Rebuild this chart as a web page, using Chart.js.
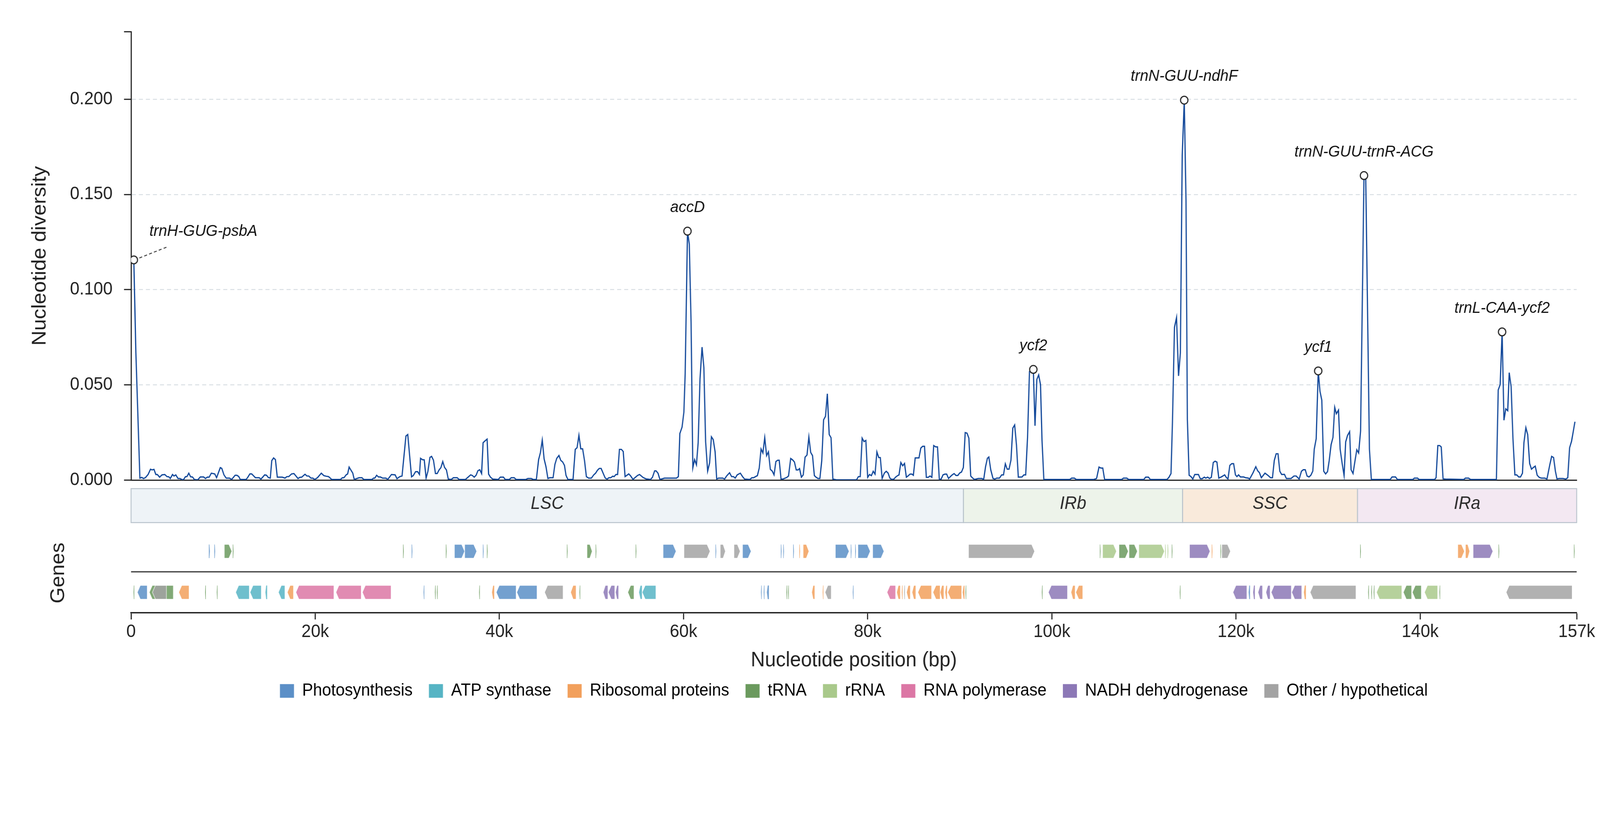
<!DOCTYPE html>
<html>
<head>
<meta charset="utf-8">
<title>Nucleotide diversity along the plastome</title>
<script src="https://cdn.jsdelivr.net/npm/chart.js@4.4.1/dist/chart.umd.min.js"></script>
<style>
  html, body { margin: 0; padding: 0; background: #fff; overflow: hidden; }
  #wrap { position: relative; width: 100vw; height: 100vh; }
  #wrap canvas { position: absolute; left: 0; top: 0; }
</style>
</head>
<body>
<div id="wrap">
  <canvas id="piChart" width="4322" height="2102" style="width:100vw;height:100vh"></canvas>
  <canvas id="trackChart" width="4322" height="2102" style="width:100vw;height:100vh"></canvas>
</div>
<script>
const GENOME_LEN = 157000;
const Y_MAX = 0.2355;

// sliding-window nucleotide diversity, [position (bp), Pi], per region
const piLSC = [
  [300,0.1156],[520,0.0670],[960,0.0010],[1160,0.0014],[1340,0.0008],[1550,0.0012],[1850,0.0029],[2110,0.0057],
  [2290,0.0053],[2490,0.0056],[2690,0.0029],[2850,0.0029],[3100,0.0015],[3360,0.0027],[3660,0.0029],[3900,0.0018],
  [4100,0.0017],[4260,0.0008],[4500,0.0029],[4660,0.0021],[4860,0.0027],[5100,0.0008],[5310,0.0008],[5570,0.0001],
  [5710,0.0003],[5910,0.0018],[6070,0.0018],[6270,0.0036],[6470,0.0017],[6670,0.0016],[6870,0.0003],[7240,0.0001],
  [7520,0.0016],[7880,0.0016],[8080,0.0008],[8280,0.0015],[8480,0.0015],[8720,0.0036],[9090,0.0032],[9290,0.0012],
  [9690,0.0065],[9850,0.0061],[10090,0.0027],[10330,0.0010],[10690,0.0010],[10930,0.0003],[11300,0.0025],[11500,0.0025],
  [11700,0.0018],[11860,0.0003],[12500,0.0003],[12660,0.0013],[12900,0.0032],[13100,0.0032],[13510,0.0012],[13910,0.0012],
  [14110,0.0005],[14510,0.0027],[14710,0.0025],[14910,0.0013],[15120,0.0010],[15280,0.0102],[15480,0.0116],[15680,0.0107],
  [15880,0.0015],[16420,0.0015],[16720,0.0010],[16920,0.0018],[17130,0.0018],[17430,0.0032],[17690,0.0034],[17890,0.0022],
  [18130,0.0008],[18330,0.0014],[18530,0.0015],[18890,0.0030],[19100,0.0021],[19300,0.0021],[19540,0.0010],[19740,0.0010],
  [19940,0.0003],[20240,0.0012],[20660,0.0036],[20940,0.0023],[21190,0.0020],[21450,0.0018],[21790,0.0003],[22750,0.0003],
  [22950,0.0012],[23120,0.0012],[23360,0.0027],[23520,0.0032],[23680,0.0068],[24080,0.0036],[24240,0.0003],[24760,0.0012],
  [25070,0.0012],[25270,0.0003],[26170,0.0003],[26330,0.0010],[26470,0.0010],[26670,0.0025],[26870,0.0016],[27080,0.0016],
  [27320,0.0010],[27680,0.0010],[27880,0.0003],[28280,0.0029],[28680,0.0027],[28880,0.0007],[29190,0.0018],[29430,0.0021],
  [29850,0.0231],[30050,0.0239],[30460,0.0017],[30640,0.0023],[30900,0.0044],[31120,0.0044],[31320,0.0029],[31440,0.0114],
  [31640,0.0107],[31840,0.0106],[32040,0.0010],[32240,0.0046],[32460,0.0119],[32640,0.0124],[32840,0.0104],[33060,0.0034],
  [33250,0.0034],[33450,0.0053],[33650,0.0065],[33850,0.0097],[34050,0.0066],[34250,0.0053],[34450,0.0005],[34770,0.0003],
  [35010,0.0012],[35420,0.0012],[35620,0.0003],[36320,0.0003],[36880,0.0027],[37060,0.0024],[37270,0.0015],[37470,0.0025],
  [37670,0.0049],[37870,0.0054],[38070,0.0034],[38230,0.0196],[38430,0.0205],[38670,0.0215],[38830,0.0031],[39030,0.0015],
  [39280,0.0005],[39880,0.0003],[40100,0.0015],[40440,0.0015],[40640,0.0003],[41080,0.0003],[41290,0.0012],[41610,0.0012],
  [41810,0.0003],[42890,0.0003],[43090,0.0008],[43460,0.0008],[43660,0.0003],[44020,0.0003],[44260,0.0107],[44460,0.0145],
  [44660,0.0210],[44860,0.0111],[45060,0.0070],[45270,0.0008],[45470,0.0012],[45830,0.0012],[46030,0.0082],[46230,0.0114],
  [46470,0.0129],[46670,0.0103],[46870,0.0095],[47070,0.0077],[47240,0.0024],[47440,0.0003],[48000,0.0003],[48240,0.0161],
  [48440,0.0170],[48640,0.0235],[48840,0.0164],[49040,0.0164],[49250,0.0101],[49450,0.0018],[49690,0.0010],[49990,0.0010],
  [50250,0.0027],[50450,0.0036],[50650,0.0051],[50850,0.0061],[51050,0.0061],[51300,0.0032],[51500,0.0010],[51700,0.0005],
  [51900,0.0012],[52100,0.0012],[52300,0.0020],[52460,0.0018],[52660,0.0029],[52840,0.0029],[53040,0.0161],[53250,0.0161],
  [53450,0.0150],[53650,0.0018],[53850,0.0025],[54050,0.0032],[54250,0.0022],[54510,0.0003],[54810,0.0016],[55010,0.0024],
  [55220,0.0029],[55420,0.0021],[55620,0.0013],[55920,0.0006],[56420,0.0003],[56620,0.0014],[56860,0.0048],[57020,0.0048],
  [57230,0.0036],[57430,0.0003],[57730,0.0007],[57930,0.0010],[59240,0.0010],[59440,0.0018],[59600,0.0244],[59840,0.0278],
  [60040,0.0357],[60180,0.0559],[60430,0.1307],[60625,0.1238],[60820,0.0829],[61010,0.0064],[61200,0.0107],[61400,0.0080],
  [61590,0.0196],[61790,0.0530],[62010,0.0698],[62210,0.0590],[62400,0.0201],[62620,0.0047],[62830,0.0090],[63030,0.0227],
  [63230,0.0212],[63430,0.0148],[63600,0.0005],[63800,0.0010],[64260,0.0010],[64460,0.0005],[64660,0.0020],[65000,0.0038],
  [65220,0.0018],[65430,0.0018],[65610,0.0010],[65830,0.0027],[66170,0.0036],[66410,0.0018],[66630,0.0005],[67210,0.0003],
  [67420,0.0012],[67620,0.0012],[67820,0.0018],[68020,0.0023],[68220,0.0063],[68420,0.0163],[68620,0.0142],[68820,0.0222],
  [69020,0.0128],[69220,0.0148],[69430,0.0056],[69630,0.0047],[69830,0.0027],[70030,0.0097],[70230,0.0104],[70390,0.0104],
  [70590,0.0005],[70790,0.0005],[71190,0.0013],[71400,0.0021],[71640,0.0113],[71840,0.0106],[72040,0.0095],[72240,0.0053],
  [72440,0.0053],[72600,0.0060],[72800,0.0015],[73000,0.0027],[73200,0.0120],[73410,0.0131],[73610,0.0226],[73810,0.0145],
  [74010,0.0128],[74210,0.0023],[74410,0.0014],[74610,0.0008],[74810,0.0008],[75010,0.0101],[75210,0.0316],[75420,0.0335],
  [75620,0.0453],[75820,0.0239],[76020,0.0222],[76220,0.0005],[76620,0.0001],[78790,0.0001],[78990,0.0018],[79190,0.0018],
  [79400,0.0220],[79600,0.0202],[79800,0.0208],[80000,0.0014],[80200,0.0029],[80400,0.0023],[80600,0.0046],[80800,0.0031],
  [81000,0.0148],[81200,0.0118],[81370,0.0118],[81570,0.0008],[81810,0.0036],[82010,0.0046],[82210,0.0037],[82410,0.0010],
  [82610,0.0003],[82850,0.0005],[83050,0.0016],[83250,0.0023],[83400,0.0027],[83600,0.0092],[83800,0.0075],[84000,0.0087],
  [84200,0.0015],[84400,0.0022],[84600,0.0031],[84800,0.0031],[84960,0.0025],[85160,0.0116],[85370,0.0116],[85570,0.0116],
  [85770,0.0168],[85970,0.0177],[86170,0.0177],[86370,0.0014],[86570,0.0014],[86770,0.0021],[86970,0.0014],[87170,0.0181],
  [87380,0.0174],[87580,0.0174],[87780,0.0003],[87980,0.0005],[88180,0.0027],[88380,0.0031],[88580,0.0031],[88780,0.0008],
  [88980,0.0018],[89180,0.0027],[89390,0.0034],[89590,0.0024],[89790,0.0024],[89990,0.0037],[90190,0.0042],[90390,0.0066]
];
const piIRb = [
  [90590,0.0249],[90790,0.0246],[90990,0.0220],[91190,0.0021],[91400,0.0010],[91600,0.0003],[92000,0.0008],[92400,0.0008],
  [92600,0.0003],[92800,0.0070],[93000,0.0114],[93160,0.0121],[93370,0.0053],[93610,0.0008],[93810,0.0005],[94010,0.0010],
  [94310,0.0010],[94550,0.0027],[94750,0.0027],[94950,0.0085],[95150,0.0057],[95350,0.0057],[95560,0.0104],[95760,0.0273],
  [95960,0.0289],[96160,0.0183],[96360,0.0015],[96760,0.0016],[96960,0.0027],[97160,0.0027],[97360,0.0224],[97570,0.0570],
  [97990,0.0581],[98170,0.0285],[98370,0.0528],[98570,0.0552],[98770,0.0501],[98930,0.0210],[99130,0.0003],[101950,0.0003],
  [102150,0.0010],[102450,0.0010],[102650,0.0003],[104560,0.0003],[104860,0.0008],[105120,0.0068],[105320,0.0063],[105530,0.0063],
  [105730,0.0003],[107580,0.0003],[107780,0.0010],[108140,0.0010],[108340,0.0003],[109990,0.0003],[110190,0.0015],[110490,0.0015],
  [110690,0.0003],[112500,0.0003],[112700,0.0013],[112940,0.0034],[113100,0.0306],[113320,0.0802],[113540,0.0853],[113760,0.0547],
  [113960,0.0668],[114160,0.1706]
];
const piSSC = [
  [114380,0.1995],[114570,0.1468],[114720,0.0318],[114910,0.0025],[115110,0.0018],[115310,0.0005],[115520,0.0029],[115920,0.0029],
  [116120,0.0007],[116320,0.0007],[116560,0.0015],[116720,0.0010],[116920,0.0015],[117120,0.0008],[117320,0.0014],[117530,0.0092],
  [117730,0.0099],[117930,0.0094],[118130,0.0010],[118430,0.0017],[118770,0.0027],[118970,0.0012],[119130,0.0006],[119330,0.0077],
  [119540,0.0086],[119740,0.0086],[119940,0.0027],[120100,0.0018],[120280,0.0027],[120480,0.0016],[120840,0.0016],[121040,0.0012],
  [121340,0.0010],[121480,0.0005],[121850,0.0038],[122150,0.0070],[122350,0.0049],[122550,0.0038],[122750,0.0012],[123150,0.0036],
  [123450,0.0025],[123760,0.0012],[123960,0.0012],[124160,0.0103],[124360,0.0138],[124560,0.0138],[124760,0.0046],[124960,0.0029],
  [125260,0.0030],[125470,0.0008],[125980,0.0008],[126290,0.0021],[126540,0.0021],[126860,0.0005],[127110,0.0046],[127310,0.0054],
  [127520,0.0054],[127720,0.0021],[127930,0.0016],[128130,0.0025],[128340,0.0047],[128500,0.0162],[128710,0.0217],[128930,0.0573],
  [129120,0.0466],[129320,0.0419],[129530,0.0046],[129730,0.0032],[129940,0.0044],[130120,0.0101],[130330,0.0186],[130530,0.0224],
  [130720,0.0382],[130900,0.0348],[131130,0.0367],[131310,0.0162],[131520,0.0090],[131740,0.0023],[131910,0.0200],[132110,0.0234],
  [132340,0.0254],[132500,0.0054],[132710,0.0034],[132910,0.0097],[133120,0.0159]
];
const piIRa = [
  [133320,0.0142],[133530,0.0258],[133900,0.1599],[134090,0.1590],[134490,0.0162],[134700,0.0003],[136750,0.0003],[136950,0.0016],
  [137320,0.0016],[137530,0.0003],[139210,0.0003],[139370,0.0010],[139720,0.0010],[139870,0.0003],[141570,0.0003],[141730,0.0012],
  [141920,0.0181],[142120,0.0181],[142290,0.0174],[142490,0.0006],[142740,0.0005],[144750,0.0003],[144910,0.0010],[145260,0.0010],
  [145470,0.0003],[148280,0.0003],[148480,0.0473],[148690,0.0501],[148900,0.0778],[149100,0.0314],[149300,0.0374],[149510,0.0364],
  [149670,0.0564],[149880,0.0490],[150080,0.0217],[150290,0.0027],[150490,0.0027],[150700,0.0016],[150900,0.0016],[151110,0.0036],
  [151270,0.0196],[151480,0.0275],[151680,0.0239],[151890,0.0087],[152090,0.0057],[152300,0.0066],[152500,0.0073],[152710,0.0025],
  [152950,0.0013],[153160,0.0010],[153530,0.0010],[153770,0.0005],[154080,0.0080],[154280,0.0124],[154490,0.0118],[154690,0.0046],
  [154860,0.0006],[155100,0.0008],[155510,0.0008],[155820,0.0005],[156030,0.0012],[156230,0.0169],[156440,0.0203],[156810,0.0306]
];

// highlighted hotspots
const peakNames = ['trnH-GUG-psbA', 'accD', 'ycf2', 'trnN-GUU-ndhF', 'ycf1', 'trnN-GUU-trnR-ACG', 'trnL-CAA-ycf2'];
const peakPos = [300, 60430, 97990, 114380, 128930, 133900, 148900];
const peakPi = [0.1156, 0.1307, 0.0581, 0.1995, 0.0573, 0.1599, 0.0778];

// quadripartite structure
const regionNames = ['LSC', 'IRb', 'SSC', 'IRa'];
const regionStart = [0, 90400, 114200, 133200];
const regionEnd = [90400, 114200, 133200, 157000];
const regionColors = ['#eef3f7', '#edf3ea', '#f9eadb', '#f3e8f2'];

// gene functional groups
const categoryKeys = ['photo', 'atp', 'ribo', 'trna', 'rrna', 'rnap', 'ndh', 'other'];
const categoryNames = ['Photosynthesis', 'ATP synthase', 'Ribosomal proteins', 'tRNA', 'rRNA', 'RNA polymerase', 'NADH dehydrogenase', 'Other / hypothetical'];
const categoryColors = ['#5b8fc7', '#56b4c4', '#f2a05c', '#6b9a5e', '#a9c98b', '#dc77a5', '#8c78b6', '#a3a3a3'];

// genes, [start, end, group]
const genesPlus = [
  [8450,8560,'photo'],[9040,9130,'photo'],[10130,10950,'trna'],[11050,11130,'trna'],[29540,29620,'trna'],[30470,30550,'photo'],
  [34190,34270,'trna'],[35120,36230,'photo'],[36230,37540,'photo'],[38210,38290,'photo'],[38650,38730,'trna'],[47330,47410,'trna'],
  [49520,50080,'trna'],[50450,50530,'trna'],[54800,54880,'trna'],[57780,59190,'photo'],[60050,62880,'other'],[63470,63550,'photo'],
  [63990,64550,'other'],[65480,66150,'other'],[66410,67340,'photo'],[70570,70650,'photo'],[70830,70910,'photo'],[71910,71990,'photo'],
  [72580,72660,'ribo'],[72990,73620,'ribo'],[76490,77980,'photo'],[78160,78240,'photo'],[78640,78720,'photo'],[78940,80280,'photo'],
  [80540,81770,'photo'],[90950,98130,'other'],[105210,105290,'trna'],[105510,107020,'rrna'],[107290,108300,'trna'],[108380,109290,'trna'],
  [109440,112230,'rrna'],[112300,112380,'rrna'],[112570,112650,'rrna'],[113020,113100,'trna'],[114950,117180,'ndh'],[117360,117440,'ribo'],
  [118310,118390,'trna'],[118460,119400,'other'],[133480,133560,'trna'],[144090,144810,'ribo'],[144920,145380,'ribo'],[145750,147900,'ndh'],
  [148510,148590,'trna'],[156700,156780,'trna']
];
const genesMinus = [
  [270,350,'trna'],[680,1760,'photo'],[1980,4590,'trna'],[2320,3840,'other'],[5180,6300,'ribo'],[8040,8120,'trna'],[9310,9390,'trna'],
  [11360,12840,'atp'],[12920,14150,'atp'],[14590,14780,'atp'],[16000,16710,'atp'],[16970,17640,'ribo'],[17900,22030,'rnap'],
  [22250,25000,'rnap'],[25120,28240,'rnap'],[31770,31850,'photo'],[33000,33080,'trna'],[33220,33300,'trna'],[37800,37880,'trna'],
  [39170,39470,'ribo'],[39660,41820,'photo'],[41890,44090,'photo'],[44910,46920,'other'],[47740,48330,'ribo'],[48700,48780,'trna'],
  [51270,51790,'ndh'],[51830,52540,'ndh'],[52610,52950,'ndh'],[53950,54620,'trna'],[55140,55510,'atp'],[55510,57000,'atp'],
  [68410,68490,'photo'],[68710,68790,'photo'],[69050,69270,'photo'],[71170,71250,'trna'],[71350,71430,'trna'],[73920,74260,'ribo'],
  [75110,75190,'ribo'],[75370,76040,'other'],[78380,78460,'photo'],[82100,83030,'rnap'],[83150,83550,'ribo'],[83700,83790,'ribo'],
  [83960,84040,'other'],[84220,84630,'ribo'],[84820,85230,'ribo'],[85450,86940,'ribo'],[87090,87870,'ribo'],[87870,88280,'ribo'],
  [88390,88650,'ribo'],[88690,90210,'ribo'],[90290,90540,'ribo'],[90620,90700,'trna'],[98910,98990,'trna'],[99620,101700,'ndh'],
  [102080,102530,'ribo'],[102600,103360,'ribo'],[113890,113970,'trna'],[119670,121180,'ndh'],[121370,121520,'photo'],[121860,122050,'ndh'],
  [122390,122880,'ndh'],[123250,123710,'ndh'],[123820,126010,'ndh'],[126050,127140,'ndh'],[127370,127590,'ribo'],[128050,133030,'other'],
  [134350,134430,'trna'],[134690,134770,'trna'],[134950,135030,'trna'],[135260,138010,'rrna'],[138170,139070,'trna'],[139150,140130,'trna'],
  [140470,141900,'rrna'],[142090,142170,'trna'],[149340,156510,'other']
];

const yTicks = [0, 0.05, 0.1, 0.15, 0.2];
const xTickValues = [0, 20000, 40000, 60000, 80000, 100000, 120000, 140000, 157000];
const xTickLabels = ['0', '20k', '40k', '60k', '80k', '100k', '120k', '140k', '157k'];
const strandLabels = ['(+)', '(-)'];

// layout of the lower panel, in track units (1 unit = 1 px)
const TRACK_H = 340;
const BAND = [22, 109];
const BAND_LABEL = 61;
const PLUS_ROW = [165, 200];
const MINUS_ROW = [270, 305];
const STRAND_TICKS = [183, 288];
const SEPARATOR = 235;
const GENES_LABEL = 238;
const HEAD = 8;

const FONT = "'Liberation Sans', Arial, Helvetica, sans-serif";
Chart.defaults.font.family = FONT;
Chart.defaults.color = '#222';

const piData = [].concat(piLSC, piIRb, piSSC, piIRa).map(p => ({ x: p[0], y: p[1] }));

// italic hotspot names above the markers
const peakLabels = {
    id: 'peakLabels',
    afterDatasetsDraw(chart) {
        const { ctx, scales: { x, y } } = chart;
        ctx.save();
        ctx.font = 'italic 41px ' + FONT;
        ctx.fillStyle = '#111';
        ctx.textBaseline = 'alphabetic';
        peakNames.forEach((name, i) => {
            const px = x.getPixelForValue(peakPos[i]);
            const py = y.getPixelForValue(peakPi[i]);
            if (i === 0) {
                // the first hotspot sits on the axis, so it gets a leader line
                ctx.save();
                ctx.strokeStyle = '#444';
                ctx.lineWidth = 2.5;
                ctx.setLineDash([8, 6]);
                ctx.beginPath();
                ctx.moveTo(px + 15, py - 5);
                ctx.lineTo(px + 92, py - 34);
                ctx.stroke();
                ctx.restore();
                ctx.textAlign = 'left';
                ctx.fillText(name, px + 42, py - 61);
            } else {
                ctx.textAlign = 'center';
                ctx.fillText(name, px, py - 49);
            }
        });
        ctx.restore();
    }
};

new Chart(document.getElementById('piChart'), {
    type: 'line',
    data: {
        datasets: [
            {
                label: 'Hotspots',
                data: peakPos.map((p, i) => ({ x: p, y: peakPi[i] })),
                showLine: false,
                pointRadius: 10,
                pointHoverRadius: 10,
                pointBackgroundColor: '#fff',
                pointBorderColor: '#2a2a2a',
                pointBorderWidth: 3,
                order: 0
            },
            {
                label: 'Pi',
                data: piData,
                borderColor: '#12489a',
                borderWidth: 3.2,
                pointRadius: 0,
                fill: false,
                tension: 0,
                order: 1
            }
        ]
    },
    options: {
        responsive: false,
        animation: false,
        devicePixelRatio: 1,
        events: [],
        layout: { padding: { left: 0, top: 81, right: 63, bottom: 873 } },
        plugins: { legend: { display: false }, tooltip: { enabled: false } },
        scales: {
            x: {
                type: 'linear',
                min: 0,
                max: GENOME_LEN,
                ticks: { display: false },
                grid: { display: false, drawTicks: false },
                border: { display: true, color: '#222', width: 3 }
            },
            y: {
                type: 'linear',
                min: 0,
                max: Y_MAX,
                afterFit: scale => { scale.width = 354; },
                afterBuildTicks: scale => { scale.ticks = yTicks.concat([Y_MAX]).map(v => ({ value: v })); },
                ticks: {
                    font: { size: 46 },
                    color: '#222',
                    padding: 31,
                    callback: v => (yTicks.includes(v) ? v.toFixed(3) : '')
                },
                grid: {
                    color: c => (c.tick && c.tick.value > 0 && c.tick.value < Y_MAX ? '#d9dfe4' : 'rgba(0,0,0,0)'),
                    lineWidth: 2.5,
                    tickColor: '#222',
                    tickLength: 19,
                    tickWidth: 3
                },
                border: { display: true, color: '#222', width: 3, dash: [11, 8] },
                title: {
                    display: true,
                    text: 'Nucleotide diversity',
                    font: { size: 53 },
                    color: '#222',
                    padding: { top: 77, bottom: 0 }
                }
            }
        }
    },
    plugins: [peakLabels]
});

function drawGenes(ctx, xs, ys, genes, row, dir) {
    const top = ys.getPixelForValue(row[0]);
    const bot = ys.getPixelForValue(row[1]);
    const mid = (top + bot) / 2;
    genes.forEach(([s, e, cat]) => {
        const x1 = xs.getPixelForValue(s);
        const w = Math.max(xs.getPixelForValue(e) - x1, 1.5);
        const h = Math.min(HEAD, w * 0.45);
        ctx.beginPath();
        if (dir > 0) {
            ctx.moveTo(x1, top);
            ctx.lineTo(x1 + w - h, top);
            ctx.lineTo(x1 + w, mid);
            ctx.lineTo(x1 + w - h, bot);
            ctx.lineTo(x1, bot);
        } else {
            ctx.moveTo(x1 + w, top);
            ctx.lineTo(x1 + h, top);
            ctx.lineTo(x1, mid);
            ctx.lineTo(x1 + h, bot);
            ctx.lineTo(x1 + w, bot);
        }
        ctx.closePath();
        ctx.globalAlpha = 0.85;
        ctx.fillStyle = categoryColors[categoryKeys.indexOf(cat)];
        ctx.fill();
        ctx.globalAlpha = 1;
        if (w > 6) {
            ctx.strokeStyle = '#fff';
            ctx.lineWidth = 1.2;
            ctx.stroke();
        }
    });
}

// region band, gene arrows and strand separator
const genomeTracks = {
    id: 'genomeTracks',
    afterDraw(chart) {
        const { ctx, chartArea, scales: { x, y } } = chart;
        ctx.save();
        const y1 = y.getPixelForValue(BAND[0]);
        const y2 = y.getPixelForValue(BAND[1]);
        regionNames.forEach((name, i) => {
            const x1 = x.getPixelForValue(regionStart[i]);
            const x2 = x.getPixelForValue(regionEnd[i]);
            ctx.fillStyle = regionColors[i];
            ctx.fillRect(x1, y1, x2 - x1, y2 - y1);
            ctx.strokeStyle = '#b9c3cc';
            ctx.lineWidth = 2.5;
            ctx.strokeRect(x1, y1, x2 - x1, y2 - y1);
            ctx.fillStyle = '#2a2a2a';
            ctx.font = 'italic 46px ' + FONT;
            ctx.textAlign = 'center';
            ctx.textBaseline = 'middle';
            ctx.fillText(name, (x1 + x2) / 2, y.getPixelForValue(BAND_LABEL));
        });

        drawGenes(ctx, x, y, genesPlus, PLUS_ROW, 1);
        drawGenes(ctx, x, y, genesMinus, MINUS_ROW, -1);

        const sy = y.getPixelForValue(SEPARATOR);
        ctx.strokeStyle = '#333';
        ctx.lineWidth = 3;
        ctx.beginPath();
        ctx.moveTo(chartArea.left, sy);
        ctx.lineTo(chartArea.right, sy);
        ctx.stroke();

        ctx.translate(158, y.getPixelForValue(GENES_LABEL));
        ctx.rotate(-Math.PI / 2);
        ctx.fillStyle = '#222';
        ctx.font = '53px ' + FONT;
        ctx.textAlign = 'center';
        ctx.textBaseline = 'middle';
        ctx.fillText('Genes', 0, 0);
        ctx.restore();
    }
};

new Chart(document.getElementById('trackChart'), {
    type: 'scatter',
    data: { datasets: [] },
    options: {
        responsive: false,
        animation: false,
        devicePixelRatio: 1,
        events: [],
        layout: { padding: { left: 354, top: 1229, right: 63, bottom: 301 } },
        plugins: {
            tooltip: { enabled: false },
            legend: {
                display: true,
                position: 'bottom',
                align: 'center',
                labels: {
                    font: { size: 44 },
                    color: '#222',
                    boxWidth: 38,
                    boxHeight: 35,
                    padding: 44,
                    generateLabels: () => categoryNames.map((n, i) => ({
                        text: n,
                        fillStyle: categoryColors[i],
                        strokeStyle: categoryColors[i],
                        lineWidth: 0,
                        hidden: false,
                        index: i
                    }))
                }
            }
        },
        scales: {
            x: {
                type: 'linear',
                min: 0,
                max: GENOME_LEN,
                afterFit: scale => { scale.height = 134; },
                afterBuildTicks: scale => { scale.ticks = xTickValues.map(v => ({ value: v })); },
                ticks: {
                    font: { size: 46 },
                    color: '#222',
                    padding: 5,
                    maxRotation: 0,
                    autoSkip: false,
                    callback: (v, i) => xTickLabels[i]
                },
                grid: { drawOnChartArea: false, drawTicks: true, tickLength: 17, tickWidth: 3, tickColor: '#222' },
                border: { display: true, color: '#222', width: 3.5 },
                title: {
                    display: true,
                    text: 'Nucleotide position (bp)',
                    font: { size: 53 },
                    color: '#222',
                    padding: { top: 0, bottom: -20 }
                }
            },
            y: {
                type: 'linear',
                min: 0,
                max: TRACK_H,
                reverse: true,
                afterFit: scale => { scale.width = 0; },
                afterBuildTicks: scale => { scale.ticks = STRAND_TICKS.map(v => ({ value: v })); },
                ticks: {
                    font: { size: 46 },
                    color: '#222',
                    padding: 30,
                    callback: (v, i) => strandLabels[i]
                },
                grid: { display: false, drawTicks: false },
                border: { display: false }
            }
        }
    },
    plugins: [genomeTracks]
});
</script>
</body>
</html>
